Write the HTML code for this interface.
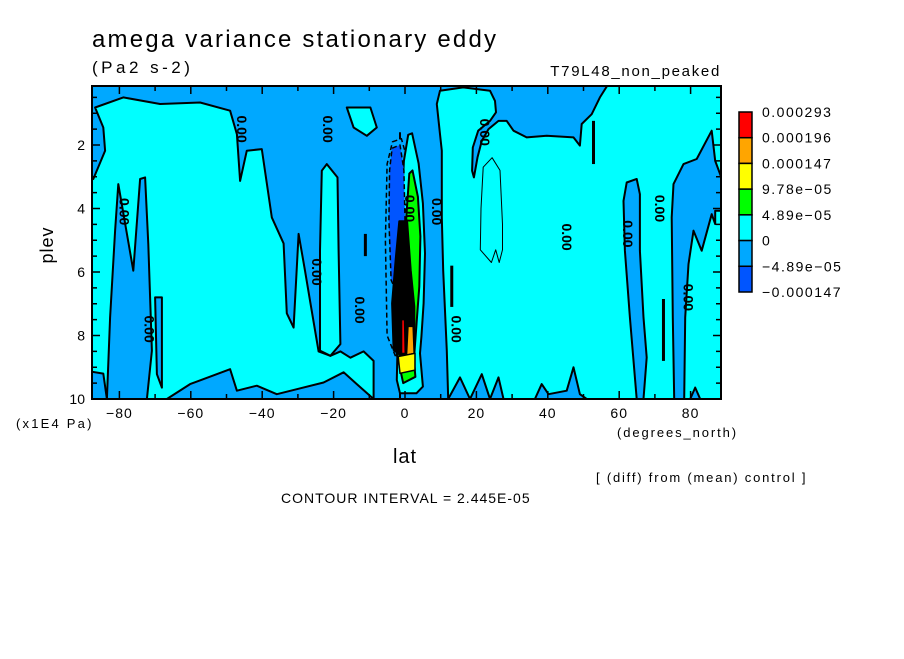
<!DOCTYPE html>
<html><head><meta charset="utf-8"><style>
body{margin:0;background:#fff;}
svg text{font-family:"Liberation Sans",sans-serif;fill:#000;}
</style></head><body>
<svg width="904" height="654" viewBox="0 0 904 654" xmlns="http://www.w3.org/2000/svg">
<rect width="904" height="654" fill="#fff"/>
<text x="92" y="47" font-size="24" letter-spacing="2.2">amega variance stationary eddy</text>
<text x="92" y="73" font-size="17" letter-spacing="3.5">(Pa2 s-2)</text>
<text x="721" y="76" font-size="15" text-anchor="end" letter-spacing="1.7">T79L48_non_peaked</text>
<text x="53" y="245" font-size="18" transform="rotate(-90 53 245)" text-anchor="middle" letter-spacing="1">plev</text>
<text x="16" y="428" font-size="13" letter-spacing="2.2">(x1E4 Pa)</text>
<text x="617" y="437" font-size="13" letter-spacing="1.9">(degrees_north)</text>
<text x="405" y="463" font-size="20" text-anchor="middle" letter-spacing="1">lat</text>
<text x="596" y="482" font-size="13" letter-spacing="1.8">[ (diff) from (mean) control ]</text>
<text x="281" y="503" font-size="14" letter-spacing="1">CONTOUR INTERVAL = 2.445E-05</text>
<defs><clipPath id="pc"><rect x="92" y="86" width="629" height="313"/></clipPath></defs>
<g id="plot" clip-path="url(#pc)"></g>
<rect x="92" y="86" width="629" height="313" fill="none" stroke="#000" stroke-width="2"/>
<g id="axes"></g>
<g id="legend"></g>
</svg>
<script>
const xTicks=[-80,-60,-40,-20,0,20,40,60,80];
const yTicks=[2,4,6,8,10];
const legendLabels=["0.000293","0.000196","0.000147","9.78e-05","4.89e-05","0","-4.89e-05","-0.000147"];
const legendColors=["#ff0000","#ffa500","#ffff00","#00ff00","#00ffff","#00a8ff","#0055ff"];
const CYAN="#00ffff",BLUE="#00a8ff",DBLUE="#0055ff";
const blueLeft=[[-90,0],[1.4,0],[1.4,10],[-8.8,10],[-8.8,8.8],[-11.6,8.5],[-15.3,8.7],[-18.1,8.5],[-20.9,8.64],[-24.2,8.5],[-26.6,6.9],[-28,5.96],[-29.8,4.8],[-31.2,7.75],[-33.1,7.3],[-34,5.1],[-37.3,4.28],[-40.1,2.13],[-44.3,2.18],[-46.2,3.13],[-47.1,1.66],[-49,0.92],[-57.4,0.66],[-68.6,0.71],[-78.9,0.5],[-86.8,0.82],[-84.5,1.45],[-84,2.18],[-87.3,3.07],[-90,3.12]];
const blueLeftFinger=[[-80.3,3.23],[-76.1,5.96],[-74.2,3.07],[-72.8,3.02],[-71.9,5.12],[-70.9,8.48],[-72.3,10],[-83.5,10],[-82.6,7.43],[-81.2,4.7]];
const blueLeftThin=[[-70,6.8],[-68.1,6.8],[-68.1,9.64],[-69.5,9.22]];
const blueLeftCorner=[[-90,10],[-90,9.1],[-84.5,9.2],[-83.5,10]];
const blueBottomLeft=[[-66.7,10],[-60.2,9.53],[-49,9.06],[-47.1,9.74],[-41.5,9.58],[-35.9,9.85],[-30.3,9.69],[-22.8,9.48],[-17.2,9.16],[-13.5,9.53],[-8.8,10]];
const cyanIsland1=[[-23.3,2.81],[-21.9,2.6],[-18.9,3.02],[-18.6,5.33],[-18.1,8.27],[-20.9,8.64],[-23.8,8.48],[-23.8,5.33]];
const cyanIsland2=[[-16.3,0.82],[-9.7,0.82],[-7.9,1.45],[-10.7,1.71],[-14.4,1.45]];
const blueRight=[[-1.4,0],[57.4,0],[54.6,0.5],[52.3,1.03],[49.5,1.34],[49,2.02],[47.2,1.76],[39.7,1.71],[34.1,1.76],[30.4,1.55],[28.5,1.24],[26.2,1.24],[23.4,1.5],[21.5,1.87],[20.3,2.39],[19.3,3.02],[18.8,2.81],[19,2.08],[20.5,1.55],[23.8,1.24],[25.5,0.97],[25.2,0.61],[23.8,0.29],[16.3,0.185],[9.8,0.29],[8.9,0.71],[9.8,1.66],[10.3,2.18],[10.3,4.28],[10.7,5.96],[11.7,8.48],[12.1,10],[-1.4,10]];
const centerPatch=[[-6,0],[6,0],[6,1.6],[-6,1.6]];
const blueFinger1=[[62.1,3.18],[64.9,3.07],[65.8,3.55],[65.8,5.33],[66.8,7.43],[67.7,8.69],[66.8,10],[64.9,10],[63,7.43],[61.6,5.33],[61.2,3.76]];
const blueFinger2=[[74.7,4.28],[75.2,3.23],[78,2.6],[81.7,2.44],[85.9,1.55],[86.9,2.5],[90,3.44],[90,4.07],[86.9,4.07],[86.9,4.49],[85.9,4.18],[83.1,5.33],[80.8,4.7],[79.4,5.75],[78.5,7.43],[78.2,10],[75.4,10],[75,7.43]];
const blueBottomRight=[[12.1,10],[15.4,9.32],[18.2,10],[21.5,9.22],[23.8,10],[26.2,9.32],[27.6,10],[36.4,10],[38.3,9.53],[40.2,9.85],[45.3,9.74],[47.2,9.0],[49,9.85],[50.9,10]];
const blueBottomRight2=[[79.9,10],[81.3,9.64],[82.7,10]];
const cyanCenter=[[0.9,1.68],[2.0,1.63],[3.8,2.58],[5.0,3.84],[5.6,5.41],[5.2,6.99],[4.6,8.04],[4.2,8.56],[5.0,9.61],[3.2,9.82],[-1.4,9.82],[-2.3,9.4],[-1.4,5],[-0.3,2.5]];
const darkBlue=[[-3.6,2.1],[-1.4,2.0],[-0.3,2.79],[0,4.36],[-0.9,5.94],[-2.3,6.67],[-3.9,6.25],[-4.5,4.36],[-4.3,2.79]];
const greenRegion=[[1.2,2.9],[2.1,2.8],[3.6,3.63],[4.3,4.88],[4.0,6.46],[3.3,7.51],[2.5,8.77],[2.9,9.3],[-0.5,9.5],[-2.3,8.56],[-0.9,6.46],[0.3,4.36]];
const blackRegion=[[-1.6,4.4],[0.6,4.4],[1.6,5.94],[2.6,7.09],[2.6,8.5],[-0.46,8.7],[-3.2,8.45],[-3.6,6.99],[-2.6,5.6]];
const yellowRegion=[[-1.9,8.66],[2.8,8.56],[2.8,9.09],[-1.4,9.19]];
const orangeRegion=[[0.9,7.72],[2.2,7.72],[2.5,8.56],[0.5,8.61]];
const redRegion=[[-0.9,7.51],[-0.2,7.51],[0,8.56],[-0.9,8.56]];
const thinLoop=[[21.9,2.7],[24.4,2.4],[26.6,2.8],[27.3,4.5],[27.3,5.3],[26.4,5.7],[25.4,5.3],[24.2,5.7],[21.1,5.3],[21.3,4]];
const dashedLoop=[[-3.5,1.9],[-1,1.8],[1,2.6],[1.2,4.5],[0,6.8],[-2.5,8.7],[-5,8],[-5.5,5],[-5,2.6]];
const lines=[[[52.8,1.24],[52.8,2.6]],[[72.4,6.85],[72.4,8.8]],[[-11.1,4.8],[-11.1,5.5]],[[13.1,5.8],[13.1,7.1]]];
const labels=[[-80,4.1],[-73,7.8],[-47,1.5],[-23,1.5],[-26,6],[-14,7.2],[0,4],[7.5,4.1],[13,7.8],[21,1.6],[44,4.9],[61,4.8],[70,4],[78,6.8]];
const SVGNS="http://www.w3.org/2000/svg";
function xs(lat){return 405+lat*3.57;}
function ys(p){return 145+(p-2)*31.75;}
function pts(a){return a.map(d=>xs(d[0]).toFixed(1)+","+ys(d[1]).toFixed(1)).join(" ");}
const plot=document.getElementById("plot");
function mk(tag,attrs,parent){const e=document.createElementNS(SVGNS,tag);for(const k in attrs)e.setAttribute(k,attrs[k]);parent.appendChild(e);return e;}
const bg=mk("rect",{x:92,y:86,width:629,height:313,fill:CYAN},plot);


function poly(a,fill,name,sw,dash){const e=mk("polygon",{points:pts(a),fill:fill,stroke:sw===0?"none":"#000","stroke-width":sw==null?2:sw,"stroke-linejoin":"round"},plot);if(dash)e.setAttribute("stroke-dasharray",dash);


return e;}
poly(blueLeft,BLUE,'blue-region-left');
poly(blueLeftFinger,BLUE,'blue-finger-left');
poly(blueLeftThin,BLUE,'blue-strip-left');
poly(blueLeftCorner,BLUE,'blue-corner-left');
poly(blueBottomLeft,BLUE,'blue-bottom-left');
poly(blueRight,BLUE,'blue-region-right');
poly(centerPatch,BLUE,'blue-top-center',0);
poly(blueFinger1,BLUE,'blue-finger-right-1');
poly(blueFinger2,BLUE,'blue-finger-right-2');
poly(blueBottomRight,BLUE,'blue-bottom-right');
poly(blueBottomRight2,BLUE,'blue-bottom-right-2');
poly(cyanIsland1,CYAN,'cyan-island-1');
poly(cyanIsland2,CYAN,'cyan-island-2');
poly(dashedLoop,BLUE,'dashed-contour',1.5,"5,3");
poly(cyanCenter,CYAN,'cyan-center');
poly(darkBlue,DBLUE,'dark-blue-region',1.5,"5,3");
poly(greenRegion,"#00ff00",'green-region');
poly(blackRegion,"#000",'dense-contours');
poly(orangeRegion,"#ffa500",'orange-region',1);
poly(yellowRegion,"#ffff00",'yellow-region',1.5);
poly(redRegion,"#ff0000",'red-region',1);
poly(thinLoop,"none",'thin-contour',1);
lines.forEach(l=>{const e=mk("line",{x1:xs(l[0][0]),y1:ys(l[0][1]),x2:xs(l[1][0]),y2:ys(l[1][1]),stroke:"#000","stroke-width":3},plot);

});
labels.forEach(l=>{const x=xs(l[0]),y=ys(l[1]);const t=mk("text",{x:x,y:y,"font-size":14,"text-anchor":"middle","font-weight":"bold",transform:"rotate(90 "+x+" "+y+")"},plot);t.textContent="0.00";

});
const axes=document.getElementById("axes");
for(let lat=-80;lat<=80;lat+=10){const x=xs(lat);const big=lat%20===0;
const t1=mk("line",{x1:x,y1:399,x2:x,y2:399-(big?8:5),stroke:"#000","stroke-width":1.5},axes);


const t2=mk("line",{x1:x,y1:86,x2:x,y2:86+(big?8:5),stroke:"#000","stroke-width":1.5},axes);

}
for(let p=0.5;p<10;p+=0.5){const y=ys(p);if(y<86)continue;const big=p%2===0;
const a=mk("line",{x1:92,y1:y,x2:92+(big?8:5),y2:y,stroke:"#000","stroke-width":1.5},axes);


const b=mk("line",{x1:721,y1:y,x2:721-(big?8:5),y2:y,stroke:"#000","stroke-width":1.5},axes);

}
xTicks.forEach(v=>{const t=mk("text",{x:xs(v),y:418,"font-size":14,"text-anchor":"middle","letter-spacing":1},axes);t.textContent=v===0?"0":(v<0?"\u2212"+(-v):String(v));

});
yTicks.forEach(v=>{const t=mk("text",{x:85,y:ys(v)+5,"font-size":14,"text-anchor":"end"},axes);t.textContent=String(v);

});
const lg=document.getElementById("legend");
const boxH=180/legendColors.length;
legendColors.forEach((c,i)=>{const r=mk("rect",{x:739,y:112+i*boxH,width:13,height:boxH,fill:c,stroke:"#000","stroke-width":1.5},lg);

});
legendLabels.forEach((s,i)=>{const t=mk("text",{x:762,y:117+i*boxH,"font-size":14,"letter-spacing":1.5},lg);t.textContent=s.replace(/-/g,"\u2212");

});
</script>
</body></html>
